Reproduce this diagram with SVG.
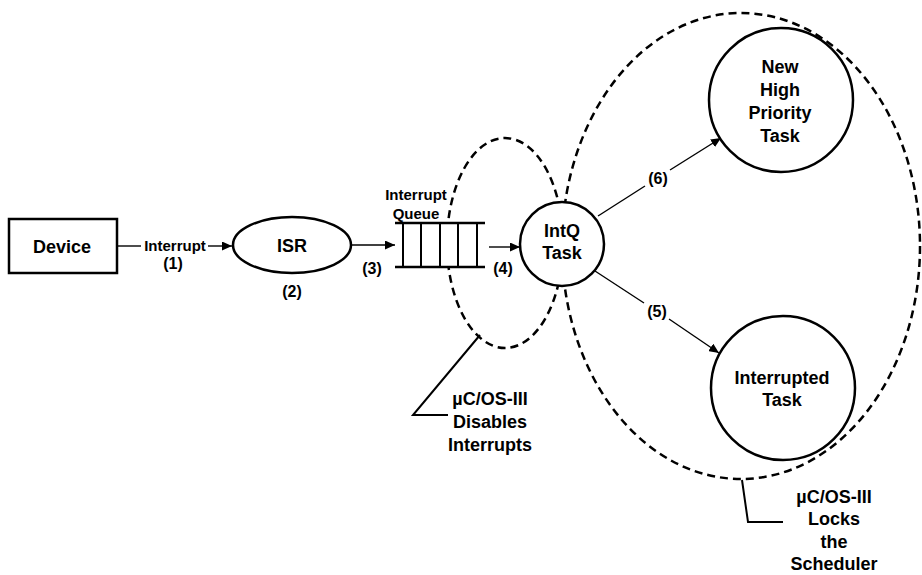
<svg xmlns="http://www.w3.org/2000/svg" width="922" height="575" viewBox="0 0 922 575">
<style>
text{font-family:"Liberation Sans",Arial,sans-serif;font-weight:bold;fill:#000;text-anchor:middle}
.n{font-size:18px}
.s{font-size:15px}
.l{font-size:16px}
.shape{fill:#fff;stroke:#000;stroke-width:2.5}
.dash{fill:none;stroke:#000;stroke-width:2.5;stroke-dasharray:8 5}
.conn{fill:none;stroke:#000;stroke-width:1.4}
.lead{fill:none;stroke:#000;stroke-width:2}
</style>
<defs>
<marker id="ah" markerUnits="userSpaceOnUse" markerWidth="11" markerHeight="9" refX="10" refY="4.5" orient="auto">
<path d="M0,0 L10,4.5 L0,9 z" fill="#000"/>
</marker>
</defs>
<rect width="922" height="575" fill="#fff"/>
<g id="regions">
<ellipse cx="741" cy="246" rx="179" ry="233" class="dash"/>
<ellipse cx="505" cy="243" rx="58" ry="105" class="dash"/>
<polyline points="480,335 413,415 448,415" class="lead"/>
<polyline points="742,480 748,522 783,522" class="lead"/>
</g>
<g id="connectors">
<line x1="117" y1="246" x2="141" y2="246" class="conn"/>
<line x1="208" y1="246" x2="232" y2="246" class="conn" marker-end="url(#ah)"/>
<line x1="352" y1="245" x2="395" y2="245" class="conn" marker-end="url(#ah)"/>
<line x1="489" y1="247" x2="520" y2="247" class="conn" marker-end="url(#ah)"/>
<line x1="598" y1="216" x2="645" y2="186" class="conn"/>
<line x1="670" y1="170" x2="721" y2="138" class="conn" marker-end="url(#ah)"/>
<line x1="595" y1="271" x2="644" y2="303" class="conn"/>
<line x1="669" y1="319" x2="719" y2="353" class="conn" marker-end="url(#ah)"/>
<text class="s" x="175" y="251">Interrupt</text>
<text class="l" x="173" y="269">(1)</text>
<text class="l" x="292" y="297">(2)</text>
<text class="l" x="372" y="274">(3)</text>
<text class="l" x="503" y="274">(4)</text>
<text class="l" x="658" y="184">(6)</text>
<text class="l" x="657" y="317">(5)</text>
</g>
<g id="device">
<rect x="9" y="219" width="108" height="54" class="shape"/>
<text class="n" x="62" y="253">Device</text>
</g>
<g id="isr">
<ellipse cx="292" cy="245" rx="59" ry="28" class="shape"/>
<text class="n" x="292" y="252">ISR</text>
</g>
<g id="queue">
<rect x="397" y="223" width="86" height="44" fill="#fff"/>
<line x1="395" y1="223" x2="485" y2="223" stroke="#000" stroke-width="2.5"/>
<line x1="395" y1="267" x2="485" y2="267" stroke="#000" stroke-width="2.5"/>
<g stroke="#000" stroke-width="2">
<line x1="403" y1="223" x2="403" y2="267"/>
<line x1="421" y1="223" x2="421" y2="267"/>
<line x1="440" y1="223" x2="440" y2="267"/>
<line x1="458" y1="223" x2="458" y2="267"/>
<line x1="477" y1="223" x2="477" y2="267"/>
</g>
<text class="s" x="416" y="200">Interrupt</text>
<text class="s" x="416" y="219">Queue</text>
</g>
<g id="intq">
<circle cx="562" cy="244" r="42" class="shape"/>
<text class="n" x="562" y="237">IntQ</text>
<text class="n" x="562" y="259">Task</text>
</g>
<g id="newtask">
<circle cx="781" cy="100" r="72" class="shape"/>
<text class="n" x="780" y="73">New</text>
<text class="n" x="780" y="96">High</text>
<text class="n" x="780" y="119">Priority</text>
<text class="n" x="780" y="142">Task</text>
</g>
<g id="interrupted">
<circle cx="783" cy="388" r="72" class="shape"/>
<text class="n" x="782" y="384">Interrupted</text>
<text class="n" x="782" y="406">Task</text>
</g>
<g id="notes">
<text class="n" x="490" y="405">µC/OS-III</text>
<text class="n" x="490" y="428">Disables</text>
<text class="n" x="490" y="451">Interrupts</text>
<text class="n" x="834" y="503">µC/OS-III</text>
<text class="n" x="834" y="525">Locks</text>
<text class="n" x="834" y="548">the</text>
<text class="n" x="834" y="570">Scheduler</text>
</g>
</svg>
